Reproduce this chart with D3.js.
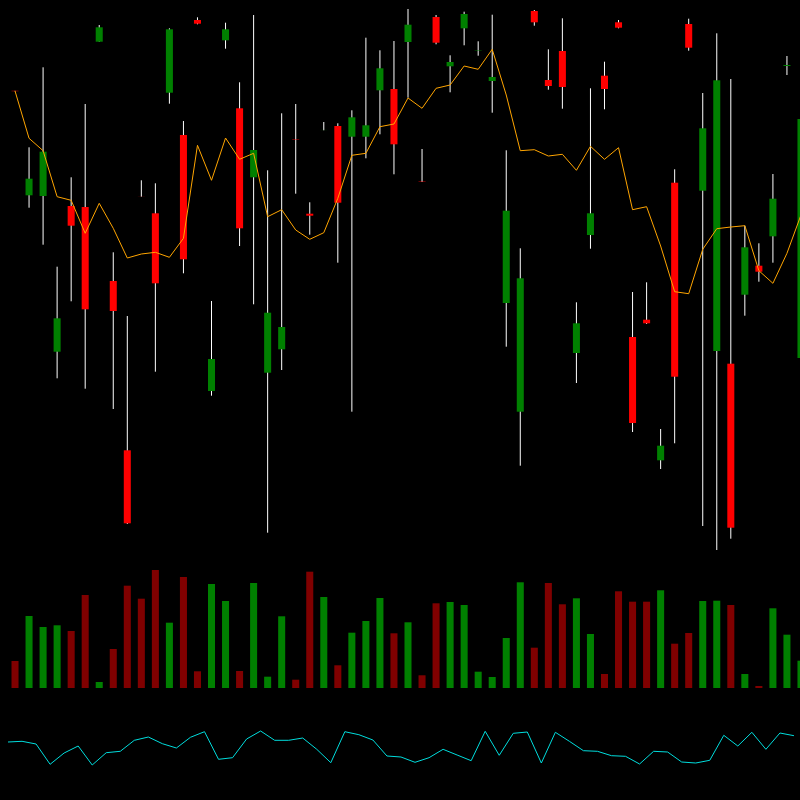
<!DOCTYPE html>
<html>
<head>
<meta charset="utf-8">
<script src="https://cdn.jsdelivr.net/npm/d3@7"></script>
<style>
  html, body { margin: 0; padding: 0; background: #000; }
  svg { display: block; }
</style>
</head>
<body>
<svg id="chart" width="800" height="800"></svg>
<script>
// ---- data ----
const openP  = [90.92,80.47,80.40,64.83,79.40,79.30,95.83,71.90,54.97,80.345,78.67,90.73,86.50,98.00,60.90,95.97,89.17,82.27,62.73,65.07,86.09,78.63,86.995,87.40,86.33,86.33,90.97,91.10,95.80,81.84,98.30,93.37,97.17,94.92,91.90,69.70,58.83,98.90,92.00,94.90,64.70,76.50,92.43,97.77,66.30,68.03,53.97,81.73,97.60,80.93,64.90,63.63,70.53,73.43,76.37,93.40,64.20];
const highP  = [90.92,85.27,93.27,73.33,82.27,89.60,97.50,74.77,68.40,81.97,81.67,97.17,87.90,98.27,69.90,97.73,91.77,98.50,82.97,88.67,89.60,79.77,87.80,87.67,88.97,96.23,94.97,95.90,99.10,85.10,98.50,94.47,98.83,95.87,98.53,84.97,75.17,99.00,95.07,98.17,69.77,91.17,93.83,98.00,70.80,71.77,57.10,83.07,98.13,90.70,96.67,92.10,77.43,75.67,82.60,94.40,88.10];
const lowP   = [90.88,79.23,75.53,62.17,69.87,61.13,95.83,59.10,47.60,80.33,62.83,89.63,72.67,97.57,60.43,95.13,75.40,69.57,46.73,63.00,80.63,76.53,86.97,73.73,58.83,84.17,86.57,82.57,90.23,81.80,95.57,90.77,95.47,94.43,88.73,65.33,53.43,97.43,91.03,89.13,61.70,75.13,89.07,97.17,56.80,67.60,53.10,55.67,94.93,47.40,45.00,46.13,68.43,71.83,73.73,92.50,64.20];
const closeP = [90.88,82.13,84.83,68.17,77.43,69.07,97.27,68.90,47.67,80.335,71.67,97.07,74.07,97.63,64.10,97.07,77.17,85.00,68.73,67.30,86.05,78.43,87.005,79.73,88.27,87.47,93.17,85.57,97.53,81.80,95.73,93.80,98.60,94.96,92.30,78.93,72.17,97.77,91.40,91.30,67.67,78.67,91.10,97.23,57.70,67.67,55.43,62.33,95.23,87.17,91.97,47.23,75.27,72.83,80.13,93.50,88.10];
const maLine = [90.90,86.17,84.93,80.33,79.97,76.67,79.67,77.17,74.20,74.60,74.77,74.27,76.17,85.47,81.97,86.20,84.07,84.67,78.33,79.03,77.00,76.07,76.73,80.17,84.47,84.67,87.33,87.60,90.20,89.17,91.17,91.50,93.40,93.07,95.07,90.50,84.93,85.03,84.40,84.57,82.97,85.37,84.07,85.23,79.03,79.33,75.40,70.83,70.63,75.07,77.13,77.30,77.43,72.93,71.67,74.67,78.50];
const volume = [27000,72000,61000,62700,57000,93000,6000,39000,102300,89300,118000,65300,111000,16700,104000,87000,17000,105000,11300,71700,8300,116300,91000,22700,55300,67000,90000,54700,65700,12700,84700,86000,83000,16300,11000,50000,105700,40300,105000,83700,89700,54000,14000,96700,86300,86300,97700,44300,55000,87000,87300,83000,14000,2000,79700,53300,27300];
const oscLine = [58.0,58.7,56.0,35.7,47.0,54.0,35.0,47.3,48.7,59.7,63.0,56.3,52.0,62.7,68.3,40.7,42.3,61.0,69.0,59.7,59.7,62.0,50.7,37.3,68.3,65.3,60.0,44.0,43.0,37.7,42.3,50.7,45.0,39.3,68.7,44.7,66.7,68.0,37.0,67.7,58.7,49.3,48.7,44.3,43.7,36.0,48.7,48.0,38.0,37.0,39.7,64.7,54.0,67.7,50.7,67.0,64.3];

// ---- chart ----
const svg = d3.select("#chart");
svg.append("rect").attr("width", 800).attr("height", 800).attr("fill", "#000");

const n = openP.length;
const x = d3.scaleBand().domain(d3.range(n)).range([8, 808]);
const bw = x.bandwidth();
const cx = i => x(i) + bw / 2;

const y = d3.scaleLinear().domain([44, 100]).range([560, 0]);
const yv = d3.scaleLinear().domain([0, 120000]).range([688, 568]);
const yo = d3.scaleLinear().domain([0, 100]).range([800, 700]);

const up = i => closeP[i] >= openP[i];

// wicks
svg.append("g").selectAll("line").data(d3.range(n)).join("line")
  .attr("x1", cx).attr("x2", cx)
  .attr("y1", i => y(highP[i])).attr("y2", i => y(lowP[i]))
  .attr("stroke", "#ffffff").attr("stroke-width", 1);

// bodies
svg.append("g").selectAll("rect").data(d3.range(n)).join("rect")
  .attr("x", i => cx(i) - bw * 0.25)
  .attr("width", bw * 0.5)
  .attr("y", i => Math.min(y(openP[i]), y(closeP[i])))
  .attr("height", i => Math.abs(y(openP[i]) - y(closeP[i])))
  .attr("fill", i => up(i) ? "#008000" : "#ff0000");

// moving average line
svg.append("path")
  .datum(d3.range(n))
  .attr("fill", "none")
  .attr("stroke", "#ffa500")
  .attr("stroke-width", 1)
  .attr("d", d3.line().x(cx).y(i => y(maLine[i])));

// volume
svg.append("g").selectAll("rect").data(d3.range(n)).join("rect")
  .attr("x", i => cx(i) - bw * 0.25)
  .attr("width", bw * 0.5)
  .attr("y", i => yv(volume[i]))
  .attr("height", i => yv(0) - yv(volume[i]))
  .attr("fill", i => up(i) ? "#008000" : "#800000");

// oscillator line
svg.append("path")
  .datum(d3.range(n))
  .attr("fill", "none")
  .attr("stroke", "#00dddd")
  .attr("stroke-width", 1)
  .attr("d", d3.line().x(i => x(i)).y(i => yo(oscLine[i])));
</script>
</body>
</html>
